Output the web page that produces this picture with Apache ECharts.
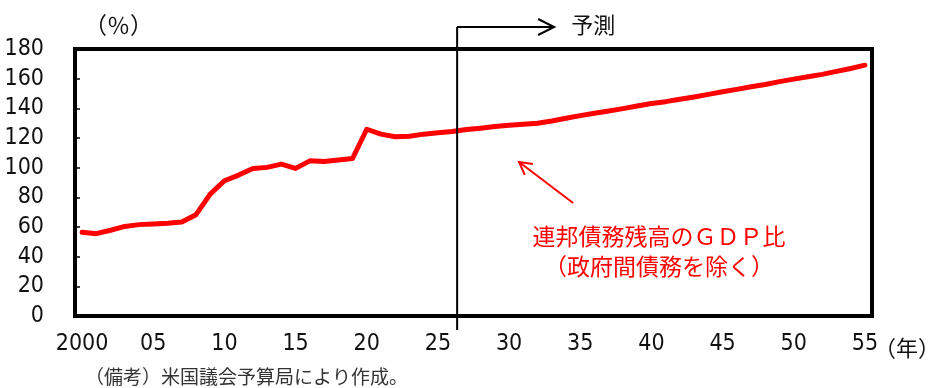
<!DOCTYPE html>
<html><head><meta charset="utf-8">
<script src="https://cdn.jsdelivr.net/npm/echarts@6/dist/echarts.min.js"></script>
<style>html,body{margin:0;padding:0;background:#fff}#c{width:934px;height:388px}</style>
</head><body><div id="c"></div>
<script>
// ---- data ----
const years = [2000,2001,2002,2003,2004,2005,2006,2007,2008,2009,
  2010,2011,2012,2013,2014,2015,2016,2017,2018,2019,
  2020,2021,2022,2023,2024,2025,2026,2027,2028,2029,
  2030,2031,2032,2033,2034,2035,2036,2037,2038,2039,
  2040,2041,2042,2043,2044,2045,2046,2047,2048,2049,
  2050,2051,2052,2053,2054,2055];
const debtRatio = [56.5,55.5,57.8,60.4,61.6,62.0,62.5,63.4,68.3,82.2,
  91.2,95.0,99.5,100.2,102.4,99.5,104.6,104.2,105.1,106.2,
  125.9,122.6,120.8,121.2,122.6,123.5,124.4,125.7,126.6,127.7,
  128.6,129.3,130.0,131.5,133.3,135.1,136.7,138.2,139.8,141.6,
  143.2,144.5,146.1,147.6,149.4,151.2,152.8,154.6,156.1,158.0,
  159.7,161.3,162.9,164.9,166.9,169.1];
const xTickYears = [2000,2005,2010,2015,2020,2025,2030,2035,2040,2045,2050,2055];
const xTickLabels = ['2000','05','10','15','20','25','30','35','40','45','50','55'];
const yTicks = [0,20,40,60,80,100,120,140,160,180];
const forecastStart = 2026.35;
const seriesLabelLines = ['連邦債務残高のＧＤＰ比', '（政府間債務を除く）'];
const annotationArrow = { tail: [2034.5, 76.2], tip: [2030.7, 103.8] };

const NUM_FONT = "'DejaVu Sans','Liberation Sans Narrow',sans-serif";
const JP_FONT = "'Noto Sans CJK JP','Noto Sans',sans-serif";

const chart = echarts.init(document.getElementById('c'), null, {renderer: 'canvas'});
const labelMap = {};
xTickYears.forEach((y, i) => labelMap[y] = xTickLabels[i]);

chart.setOption({
  animation: false,
  backgroundColor: '#fff',
  grid: { left: 75, right: 62, top: 49, bottom: 72, show: true,
          borderColor: '#000', borderWidth: 4, backgroundColor: 'transparent' },
  xAxis: {
    type: 'value', min: 1999.5, max: 2055.5,
    axisLine: { show: false }, axisTick: { show: false }, splitLine: { show: false },
    axisLabel: { customValues: xTickYears, formatter: v => labelMap[v] ?? '',
      fontFamily: NUM_FONT, fontWeight: 'condensed', fontSize: 23, color: '#111', margin: 17 }
  },
  yAxis: {
    type: 'value', min: yTicks[0], max: yTicks[yTicks.length - 1], interval: yTicks[1] - yTicks[0],
    axisLine: { show: false }, splitLine: { show: false },
    axisTick: { show: true, inside: true, length: 5, lineStyle: { color: '#000', width: 1.5 } },
    axisLabel: { fontFamily: NUM_FONT, fontWeight: 'condensed', fontSize: 23, color: '#111', margin: 31 }
  },
  series: [{
    type: 'line', data: years.map((y, i) => [y, debtRatio[i]]),
    showSymbol: false, symbol: 'none',
    lineStyle: { color: '#ff0000', width: 5, cap: 'round', join: 'round' }
  }]
});

function px(p) { return chart.convertToPixel({ gridIndex: 0 }, p); }
const gridTop = px([2000, 180])[1];
const gridBottom = px([2000, 0])[1];
const fx = px([forecastStart, 0])[0];
const arrowY = gridTop - 22;
const arrowEnd = fx + 97;

const tip = px(annotationArrow.tip), tail = px(annotationArrow.tail);
const dx = tip[0] - tail[0], dy = tip[1] - tail[1];
const len = Math.hypot(dx, dy), ux = dx / len, uy = dy / len;
const wing = 14, ang = 0.5;
function rot(x, y, a) { return [x * Math.cos(a) - y * Math.sin(a), x * Math.sin(a) + y * Math.cos(a)]; }
const w1 = rot(-ux, -uy, ang), w2 = rot(-ux, -uy, -ang);

chart.setOption({
  graphic: [
    { type: 'line', shape: { x1: fx, y1: arrowY, x2: fx, y2: gridBottom + 14 },
      style: { stroke: '#000', lineWidth: 2 }, z: 10 },
    { type: 'line', shape: { x1: fx, y1: arrowY, x2: arrowEnd, y2: arrowY },
      style: { stroke: '#000', lineWidth: 2 }, z: 10 },
    { type: 'polyline', shape: { points: [[arrowEnd - 16, arrowY - 8], [arrowEnd, arrowY], [arrowEnd - 16, arrowY + 8]] },
      style: { stroke: '#000', lineWidth: 2, fill: null }, z: 10 },
    { type: 'text', x: fx + 114, y: 25, style: { text: '予測', font: '22px ' + JP_FONT, fill: '#111', verticalAlign: 'middle' } },
    { type: 'text', x: 84, y: 25, style: { text: '（％）', font: '23px ' + JP_FONT, fill: '#111', verticalAlign: 'middle' } },
    { type: 'text', x: 874, y: 348, style: { text: '（年）', font: '22px ' + JP_FONT, fill: '#111', verticalAlign: 'middle' } },
    { type: 'line', shape: { x1: tail[0], y1: tail[1], x2: tip[0], y2: tip[1] },
      style: { stroke: '#ff0000', lineWidth: 2 }, z: 10 },
    { type: 'polyline', shape: { points: [[tip[0] + w1[0] * wing, tip[1] + w1[1] * wing], tip, [tip[0] + w2[0] * wing, tip[1] + w2[1] * wing]] },
      style: { stroke: '#ff0000', lineWidth: 2, fill: null }, z: 10 },
    { type: 'text', x: 659, y: 236, style: { text: seriesLabelLines[0], font: '23px ' + JP_FONT, fill: '#ff0000', align: 'center', verticalAlign: 'middle' } },
    { type: 'text', x: 659, y: 266, style: { text: seriesLabelLines[1], font: '23px ' + JP_FONT, fill: '#ff0000', align: 'center', verticalAlign: 'middle' } },
    { type: 'text', x: 85, y: 377, style: { text: '（備考）米国議会予算局により作成。', font: '19px ' + JP_FONT, fill: '#333', verticalAlign: 'middle' } }
  ]
});
</script></body></html>
